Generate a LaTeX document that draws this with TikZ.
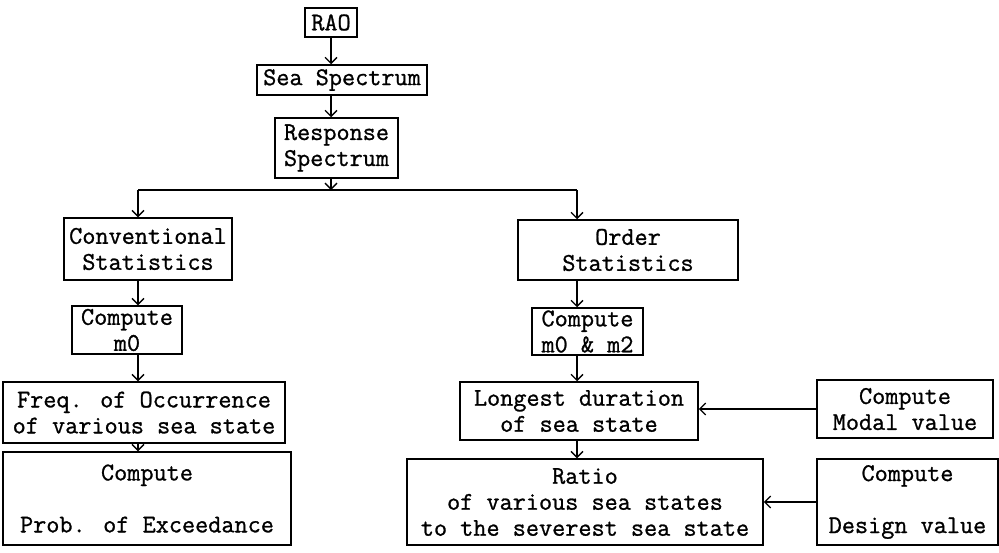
\documentclass[tikz,border=0pt]{standalone}
\usepackage{fontspec}
\newfontfamily\boxfont[FakeBold=1]{Latin Modern Mono}
\usetikzlibrary{arrows.meta}

\begin{document}
\begin{tikzpicture}[x=1pt,y=-1pt,
  box/.style={draw,line width=1.5pt,inner sep=0pt,align=center,
    font=\boxfont\fontsize{25.5}{26}\selectfont},
  arr/.style={line width=1.3pt,-{Straight Barb[length=6pt,width=12pt]}}]
  \useasboundingbox (0,0) rectangle (999,552);
  % spectrum chain at the top
  \node[box,minimum width=52pt,minimum height=29pt] (rao) at (331,22.5) {RAO};
  \node[box,minimum width=170pt,minimum height=30pt] (sea) at (342,80) {Sea Spectrum};
  \node[box,minimum width=123pt,minimum height=60pt] (resp) at (336.5,148) {Response\\Spectrum};
  \coordinate (split) at (331,190);
  \coordinate (lsplit) at (138,190);
  \coordinate (rsplit) at (577,190);
  % conventional statistics
  \node[box,minimum width=168pt,minimum height=62pt] (conv) at (148,249) {Conventional\\Statistics};
  \node[box,minimum width=110pt,minimum height=48pt] (mzero) at (127,330) {Compute\\m0};
  \node[box,minimum width=282pt,minimum height=61pt] (freq) at (144,412.5) {Freq. of Occurrence\\of various sea state};
  \node[box,minimum width=288pt,minimum height=93pt] (prob) at (147,498.5) {Compute\\[26pt]Prob. of Exceedance};
  % order statistics
  \node[box,minimum width=220pt,minimum height=60pt] (order) at (628,250) {Order\\Statistics};
  \node[box,minimum width=111pt,minimum height=47pt] (mtwo) at (587.5,331.5) {Compute\\m0 \& m2};
  \node[box,minimum width=238pt,minimum height=58pt] (longest) at (579,411) {Longest duration\\of sea state};
  \node[box,minimum width=356pt,minimum height=86pt] (ratio) at (585,502) {Ratio\\of various sea states\\to the severest sea state};
  \node[box,minimum width=176pt,minimum height=58pt] (modal) at (905,409) {Compute\\Modal value};
  \node[box,minimum width=181pt,minimum height=86pt] (design) at (907.5,502) {Compute\\[26pt]Design value};

  \draw[arr] (rao.south) -- (rao.south |- sea.north);
  \draw[arr] (rao.south |- sea.south) -- (rao.south |- resp.north);
  \draw[arr] (rao.south |- resp.south) -- (split);
  \draw[line width=1.3pt] (lsplit) -- (rsplit);
  \draw[arr] (lsplit) -- (lsplit |- conv.north);
  \draw[arr] (rsplit) -- (rsplit |- order.north);
  \foreach \a/\b in {conv/mzero,mzero/freq,freq/prob}
    \draw[arr] (lsplit |- \a.south) -- (lsplit |- \b.north);
  \foreach \a/\b in {order/mtwo,mtwo/longest,longest/ratio}
    \draw[arr] (rsplit |- \a.south) -- (rsplit |- \b.north);
  \draw[arr] (modal.west) -- (modal.west -| longest.east);
  \draw[arr] (design.west) -- (design.west -| ratio.east);
\end{tikzpicture}
\end{document}
